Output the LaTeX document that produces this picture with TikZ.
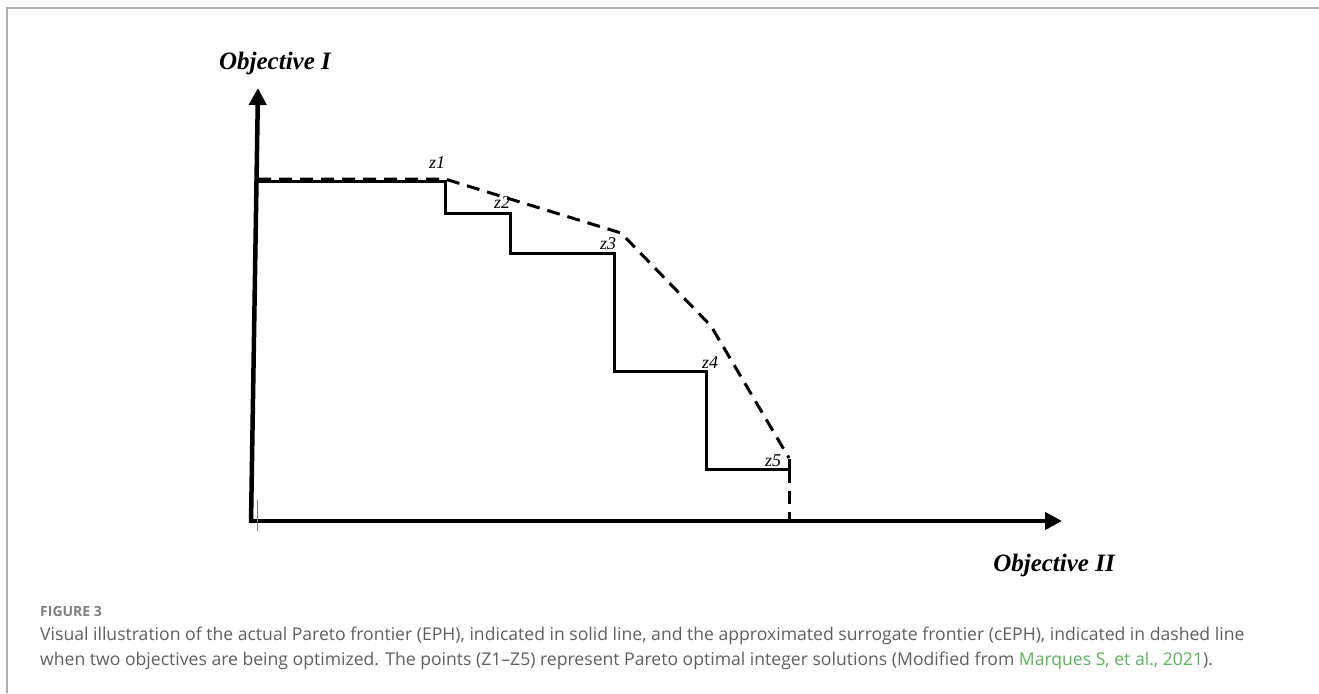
\documentclass[tikz,border=0pt]{standalone}
\usepackage{fontspec}
\setmainfont{Liberation Serif}
\newfontfamily\capfont{Open Sans}
\usetikzlibrary{arrows.meta}
\definecolor{framegray}{RGB}{176,176,176}
\definecolor{capgray}{RGB}{95,95,95}
\definecolor{linkgreen}{RGB}{92,178,92}
\tikzset{
  axisline/.style={line width=4.5pt,-{Triangle[width=17pt,length=17pt]}},
  stepline/.style={line width=3pt,line join=miter},
  dashline/.style={line width=3pt,dash pattern=on 13pt off 8pt},
  zlabel/.style={font=\fontsize{18}{18}\selectfont\itshape,inner sep=0pt},
  axlabel/.style={font=\fontsize{25}{25}\selectfont\bfseries\itshape,inner sep=0pt},
  captext/.style={font=\capfont\fontsize{17.6}{17.6}\selectfont,text=capgray,anchor=west,inner sep=0pt}
}
\begin{document}
\begin{tikzpicture}[x=1pt,y=-1pt]
\useasboundingbox (0,0) rectangle (1319,693);
% frame
\draw[framegray,line width=2pt] (7,693) -- (7,8) -- (1319,8);
% coordinates
\coordinate (ybot) at (251,523);
\coordinate (ytop) at (258,88);
\coordinate (xleft) at (249,521);
\coordinate (xright) at (1062,521);
\coordinate (s0) at (258,181);
\coordinate (z1p) at (445,181);
\coordinate (a1) at (445,213);
\coordinate (z2p) at (510,213);
\coordinate (a2) at (510,253);
\coordinate (z3p) at (614,253);
\coordinate (a3) at (614,371);
\coordinate (z4p) at (706,371);
\coordinate (a4) at (706,469);
\coordinate (z5p) at (789,469);
\coordinate (a5) at (789,459);
\coordinate (d0) at (258,179);
\coordinate (d1) at (445,179);
\coordinate (d2) at (621,233);
\coordinate (d3) at (711,326);
\coordinate (d4) at (789,458);
\coordinate (d5) at (789,470);
\coordinate (d6) at (789,519);
% axes
\draw[axisline] (ybot) -- (ytop);
\draw[axisline] (xleft) -- (xright);
\draw[line width=0.8pt,gray] (257,500) -- (257,531);
% actual frontier (solid)
\draw[stepline] (s0) -- (z1p) -- (a1) -- (z2p) -- (a2) -- (z3p) -- (a3) -- (z4p) -- (a4) -- (z5p) -- (a5);
% surrogate frontier (dashed)
\draw[dashline] (d0) -- (d1) -- (d2) -- (d3) -- (d4);
\draw[dashline] (d5) -- (d6);
% labels
\node[zlabel] (z1) at (437,163) {z1};
\node[zlabel] (z2) at (502,203) {z2};
\node[zlabel] (z3) at (608,244) {z3};
\node[zlabel] (z4) at (710,363) {z4};
\node[zlabel] (z5) at (773,461) {z5};
\node[axlabel] (obj1) at (275,63) {Objective I};
\node[axlabel] (obj2) at (1054,565) {Objective II};
% caption
\node[captext,font=\capfont\bfseries\fontsize{14}{14}\selectfont,text=capgray!80] (fig) at (40,611) {FIGURE 3};
\node[captext] (cap1) at (40,636) {Visual illustration of the actual Pareto frontier (EPH), indicated in solid line, and the approximated surrogate frontier (cEPH), indicated in dashed line};
\node[captext] (cap2) at (40,661) {when two objectives are being optimized. The points (Z1–Z5) represent Pareto optimal integer solutions (Modified from \textcolor{linkgreen}{Marques S, et al., 2021}).};
\end{tikzpicture}
\end{document}
